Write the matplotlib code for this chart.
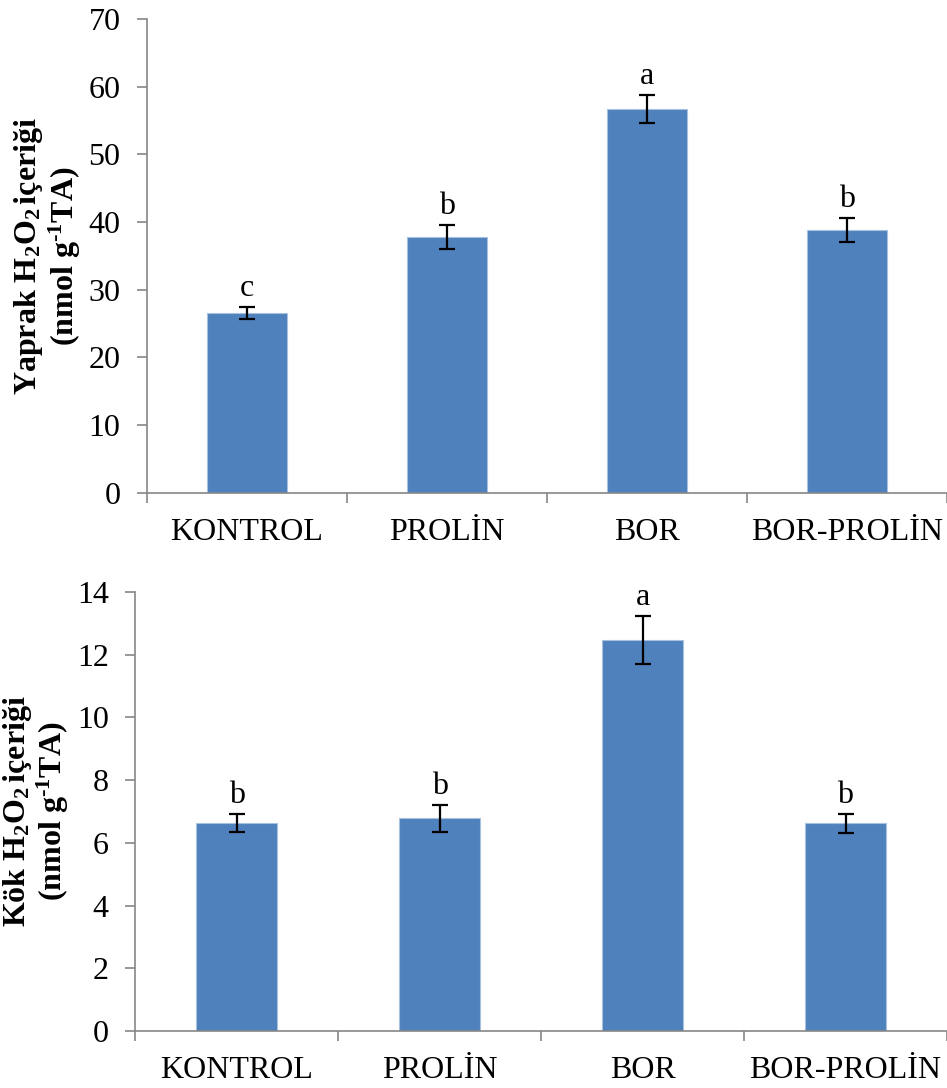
import matplotlib
matplotlib.use("Agg")
import matplotlib.pyplot as plt

plt.rcParams['font.family'] = ['Liberation Serif', 'DejaVu Serif']
plt.rcParams['mathtext.fontset'] = 'custom'
plt.rcParams['mathtext.rm'] = 'Liberation Serif'
plt.rcParams['mathtext.it'] = 'Liberation Serif:italic'
plt.rcParams['mathtext.bf'] = 'Liberation Serif:bold'

# data
groups = ['KONTROL', 'PROLİN', 'BOR', 'BOR-PROLİN']
leaf_vals = [26.6, 37.8, 56.7, 38.8]
leaf_err = [0.9, 1.7, 2.1, 1.8]
leaf_letters = ['c', 'b', 'a', 'b']
root_vals = [6.63, 6.78, 12.47, 6.62]
root_err = [0.30, 0.42, 0.77, 0.31]
root_letters = ['b', 'b', 'a', 'b']

bar_color = '#4F81BD'
axis_gray = '#868686'
fs = 23


def draw_panel(ax, vals, errs, letters, ymax, ystep, ylabel):
    x = list(range(len(groups)))
    ax.bar(x, vals, width=0.4, color=bar_color, edgecolor='#A9C1E0', linewidth=0.8, zorder=2)
    ax.errorbar(x, vals, yerr=errs, fmt='none', ecolor='black', elinewidth=1.6,
                capsize=6, capthick=1.6, zorder=3)
    for xi, v, e, lab in zip(x, vals, errs, letters):
        ax.annotate(lab, (xi, v + e), xytext=(0, 3), textcoords='offset points',
                    ha='center', va='bottom', fontsize=fs)

    ax.set_xlim(-0.5, len(groups) - 0.5)
    ax.set_ylim(0, ymax)
    ax.set_yticks(range(0, ymax + 1, ystep))
    ax.tick_params(axis='y', labelsize=fs, length=7, width=1.2, color=axis_gray, direction='out', pad=12)

    # category boundaries as major ticks, names as minor ticks
    ax.set_xticks([i - 0.5 for i in range(len(groups) + 1)])
    ax.set_xticklabels([])
    ax.set_xticks(x, minor=True)
    ax.set_xticklabels(groups, minor=True, fontsize=fs)
    ax.tick_params(axis='x', which='major', length=7, width=1.2, color=axis_gray, direction='out')
    ax.tick_params(axis='x', which='minor', length=0, pad=18)

    for s in ['top', 'right']:
        ax.spines[s].set_visible(False)
    for s in ['left', 'bottom']:
        ax.spines[s].set_color(axis_gray)
        ax.spines[s].set_linewidth(1.2)
    ax.spines['left'].set_bounds(0, ymax)

    ax.set_ylabel(ylabel, fontsize=fs, fontweight='bold', linespacing=1.05, labelpad=4)


fig = plt.figure(figsize=(9.47, 10.88), dpi=100)
ax1 = fig.add_axes([0.155, 0.547, 0.845, 0.4355])
ax2 = fig.add_axes([0.1426, 0.0524, 0.8574, 0.4035])

draw_panel(ax1, leaf_vals, leaf_err, leaf_letters, 70, 10,
           'Yaprak H$_\\mathbf{2}$O$_\\mathbf{2}\\,$içeriği\n(nmol g$^\\mathbf{\\text{-}1}$TA)')
draw_panel(ax2, root_vals, root_err, root_letters, 14, 2,
           'Kök H$_\\mathbf{2}$O$_\\mathbf{2}\\,$içeriği\n(nmol g$^\\mathbf{\\text{-}1}$TA)')

fig.savefig('out.png', dpi=100)
